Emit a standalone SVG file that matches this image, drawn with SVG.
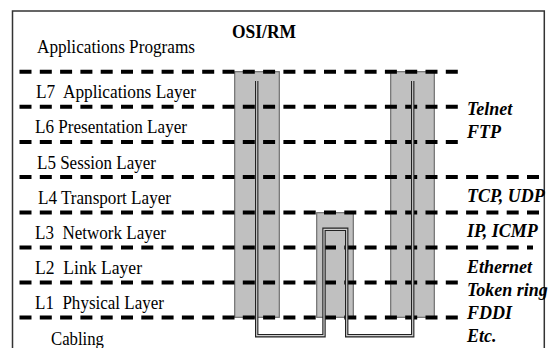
<svg xmlns="http://www.w3.org/2000/svg" width="548" height="348" viewBox="0 0 548 348">
<style>
.lbl{font-family:"Liberation Serif","Times New Roman",serif;font-size:19px;fill:#000;white-space:pre}
.ttl{font-family:"Liberation Serif","Times New Roman",serif;font-size:19px;font-weight:bold;fill:#000}
.proto{font-family:"Liberation Serif","Times New Roman",serif;font-size:18px;font-weight:bold;font-style:italic;fill:#000}
.dash{stroke:#000;stroke-width:4;stroke-dasharray:12 8.3;fill:none}
.col{fill:#c0c0c0;stroke:#6e6e6e;stroke-width:1.2}
.wireo{fill:none;stroke:#222;stroke-width:3.4}
.wirei{fill:none;stroke:#cfcfcf;stroke-width:1.2}
</style>
<rect x="0" y="0" width="548" height="348" fill="#fff"/>
<path d="M12.5 360 V11 H544.3 V360" fill="none" stroke="#333" stroke-width="1.5"/>
<g id="columns">
<rect id="col-host-a" class="col" x="234.7" y="71.7" width="44.6" height="245.6"/>
<rect id="col-router" class="col" x="316.7" y="212.7" width="36.6" height="104.6"/>
<rect id="col-host-b" class="col" x="390.7" y="71.7" width="43.6" height="245.6"/>
</g>
<g id="layers">
<line class="dash" x1="19.5" y1="71.7" x2="458" y2="71.7"/>
<line class="dash" x1="19.5" y1="106.8" x2="458" y2="106.8"/>
<line class="dash" x1="19.5" y1="141.9" x2="458" y2="141.9"/>
<line class="dash" x1="19.5" y1="177" x2="539" y2="177"/>
<line class="dash" x1="19.5" y1="212.6" x2="539" y2="212.6"/>
<line class="dash" x1="19.5" y1="247.4" x2="533" y2="247.4"/>
<line class="dash" x1="19.5" y1="282.5" x2="458" y2="282.5"/>
<line class="dash" x1="19.5" y1="317.4" x2="458" y2="317.4"/>
</g>
<g id="connectors">
<path class="wireo" d="M256.7 81 V335.7 H324 V229.3 H346.7 V335.7 H412.7 V81"/>
<path class="wirei" d="M256.7 81 V335.7 H324 V229.3 H346.7 V335.7 H412.7 V81"/>
</g>
<g id="title"><text class="ttl" x="232" y="38.3" textLength="64" lengthAdjust="spacingAndGlyphs">OSI/RM</text></g>
<g id="layer-labels">
<text class="lbl" x="37" y="53.3" textLength="158" lengthAdjust="spacingAndGlyphs">Applications Programs</text>
<text class="lbl" x="36" y="98.3" textLength="160" lengthAdjust="spacingAndGlyphs">L7  Applications Layer</text>
<text class="lbl" x="35" y="133.4" textLength="152" lengthAdjust="spacingAndGlyphs">L6 Presentation Layer</text>
<text class="lbl" x="37" y="168.5" textLength="119" lengthAdjust="spacingAndGlyphs">L5 Session Layer</text>
<text class="lbl" x="38" y="203.6" textLength="133" lengthAdjust="spacingAndGlyphs">L4 Transport Layer</text>
<text class="lbl" x="35" y="238.7" textLength="131" lengthAdjust="spacingAndGlyphs">L3  Network Layer</text>
<text class="lbl" x="35" y="273.8" textLength="107" lengthAdjust="spacingAndGlyphs">L2  Link Layer</text>
<text class="lbl" x="35" y="309" textLength="129" lengthAdjust="spacingAndGlyphs">L1  Physical Layer</text>
<text class="lbl" x="51" y="345" textLength="53" lengthAdjust="spacingAndGlyphs">Cabling</text>
</g>
<g id="protocols">
<text class="proto" x="467" y="115">Telnet</text>
<text class="proto" x="467" y="137.5">FTP</text>
<text class="proto" x="467" y="201.7">TCP, UDP</text>
<text class="proto" x="467" y="236.7">IP, ICMP</text>
<text class="proto" x="467" y="273.3">Ethernet</text>
<text class="proto" x="467" y="296">Token ring</text>
<text class="proto" x="467" y="319.3">FDDI</text>
<text class="proto" x="467" y="341.7">Etc.</text>
</g>
</svg>
